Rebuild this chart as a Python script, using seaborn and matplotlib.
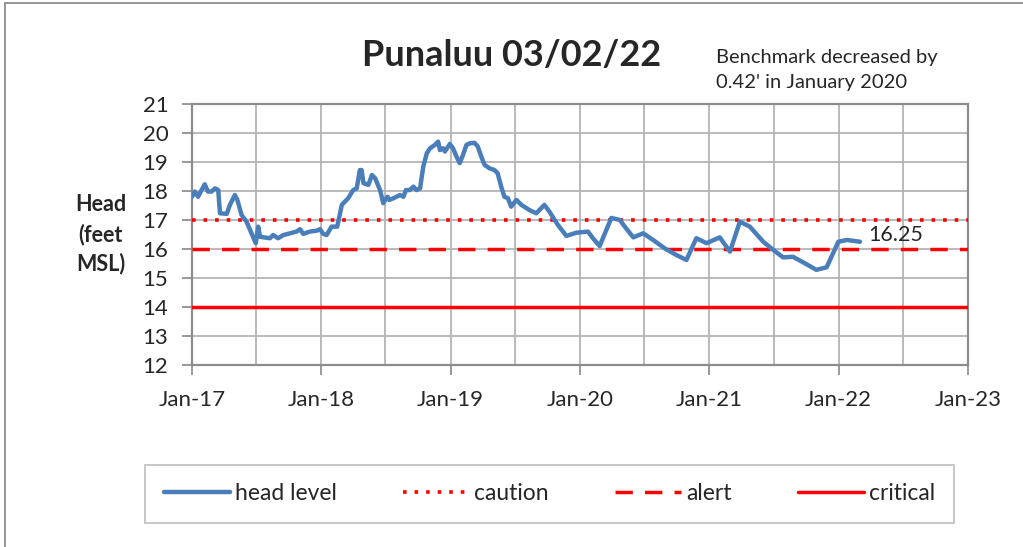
import pandas as pd
import seaborn as sns
import matplotlib.pyplot as plt
import matplotlib.dates as mdates
from matplotlib.patches import Rectangle

# head level readings
dates = [
    "2017-01-01", "2017-01-09", "2017-01-18", "2017-01-28", "2017-02-06", "2017-02-15",
    "2017-02-25", "2017-03-07", "2017-03-16", "2017-03-21", "2017-04-09", "2017-04-18",
    "2017-05-02", "2017-05-09", "2017-05-21", "2017-06-04", "2017-06-18", "2017-06-30",
    "2017-07-07", "2017-07-12", "2017-08-09", "2017-08-18", "2017-09-01", "2017-09-16",
    "2017-10-05", "2017-10-23", "2017-11-02", "2017-11-11", "2017-11-30", "2017-12-19",
    "2017-12-28", "2018-01-07", "2018-01-16", "2018-01-30", "2018-02-15", "2018-02-28",
    "2018-03-18", "2018-04-01", "2018-04-11", "2018-04-20", "2018-04-25", "2018-04-30",
    "2018-05-14", "2018-05-24", "2018-06-02", "2018-06-16", "2018-06-25", "2018-07-07",
    "2018-07-12", "2018-07-24", "2018-08-11", "2018-08-21", "2018-08-28", "2018-09-08",
    "2018-09-18", "2018-09-27", "2018-10-07", "2018-10-16", "2018-10-26", "2018-11-04",
    "2018-11-18", "2018-11-27", "2018-12-02", "2018-12-11", "2018-12-16", "2018-12-30",
    "2019-01-08", "2019-01-18", "2019-01-27", "2019-02-05", "2019-02-15", "2019-02-24",
    "2019-03-10", "2019-03-19", "2019-03-29", "2019-04-07", "2019-04-21", "2019-05-05",
    "2019-05-14", "2019-05-24", "2019-06-02", "2019-06-12", "2019-06-21", "2019-07-06",
    "2019-07-20", "2019-08-12", "2019-08-31", "2019-09-23", "2019-10-07", "2019-10-31",
    "2019-11-24", "2019-12-22", "2020-01-24", "2020-02-07", "2020-02-26", "2020-03-30",
    "2020-04-23", "2020-05-07", "2020-05-31", "2020-06-28", "2020-07-26", "2020-08-28",
    "2020-09-30", "2020-10-28", "2020-11-25", "2020-12-24", "2021-01-30", "2021-02-28",
    "2021-03-28", "2021-04-25", "2021-06-02", "2021-06-30", "2021-07-28", "2021-08-25",
    "2021-09-27", "2021-10-30", "2021-11-28", "2021-12-31", "2022-01-24", "2022-03-02",
]
head = [
    17.80, 17.98, 17.80, 18.03, 18.23, 17.98,
    17.98, 18.09, 18.03, 17.23, 17.21, 17.52,
    17.86, 17.69, 17.17, 16.94, 16.54, 16.20,
    16.77, 16.42, 16.37, 16.48, 16.37, 16.48,
    16.54, 16.60, 16.68, 16.52, 16.60, 16.63,
    16.68, 16.52, 16.48, 16.77, 16.77, 17.52,
    17.75, 18.03, 18.09, 18.72, 18.72, 18.27,
    18.21, 18.55, 18.44, 18.03, 17.58, 17.80,
    17.69, 17.75, 17.86, 17.80, 18.03, 18.03,
    18.15, 18.03, 18.09, 18.84, 19.30, 19.47,
    19.59, 19.70, 19.41, 19.47, 19.36, 19.62,
    19.47, 19.18, 18.96, 19.24, 19.59, 19.64,
    19.66, 19.53, 19.18, 18.90, 18.78, 18.72,
    18.61, 18.15, 17.80, 17.75, 17.46, 17.69,
    17.52, 17.34, 17.23, 17.52, 17.29, 16.83,
    16.45, 16.56, 16.60, 16.37, 16.10, 17.07,
    17.00, 16.77, 16.40, 16.54, 16.31, 16.02,
    15.79, 15.62, 16.37, 16.20, 16.40, 15.91,
    16.94, 16.77, 16.25, 15.97, 15.71, 15.73,
    15.51, 15.28, 15.37, 16.25, 16.31, 16.25,
]

levels = ["caution", "alert", "critical"]
level_values = [17, 16, 14]
level_styles = [":", "--", "-"]

latest_label = "16.25"

df = pd.DataFrame({"date": pd.to_datetime(dates), "head": head})

sns.set_theme(style="white")
plt.rcParams["font.family"] = ["Lato", "DejaVu Sans"]

fig = plt.figure(figsize=(10.23, 5.47), dpi=100)
ax = fig.add_axes([0.1877, 0.3327, 0.7585, 0.4773])

# threshold lines
for name, val, ls in zip(levels, level_values, level_styles):
    ax.axhline(val, color="#ff0000", linestyle=ls, linewidth=2.5 if ls != ":" else 2.6,
               label=name, zorder=3,
               dashes=(1, 2.2) if ls == ":" else ((5, 3.5) if ls == "--" else (None, None)))

sns.lineplot(data=df, x="date", y="head", ax=ax, color="#4a7ebb", linewidth=3.2,
             label="head level", zorder=4)

ax.annotate(latest_label, xy=(df["date"].iloc[-1], df["head"].iloc[-1]),
            xytext=(6, 5), textcoords="offset points", fontsize=15.5, va="center", ha="left")

ax.set_xlim(pd.Timestamp("2017-01-01"), pd.Timestamp("2023-01-01"))
ax.set_ylim(12, 21)
ax.set_yticks(range(12, 22))
ax.xaxis.set_major_locator(mdates.YearLocator())
ax.xaxis.set_minor_locator(mdates.MonthLocator(bymonth=7))
ax.xaxis.set_major_formatter(mdates.DateFormatter("%b-%y"))

ax.grid(True, which="major", axis="both", color="#b4b4b4", linewidth=1.3)
ax.grid(True, which="minor", axis="x", color="#b4b4b4", linewidth=1.3)
for s in ax.spines.values():
    s.set_color("#8c8c8c")
    s.set_linewidth(1.6)

ax.tick_params(axis="both", which="major", labelsize=16, length=7, color="#8c8c8c",
               direction="out", bottom=True, left=True)
ax.tick_params(axis="y", which="major", pad=10)
ax.tick_params(axis="x", which="major", pad=11)
ax.tick_params(axis="x", which="minor", length=0)
ax.set_xlabel("")
ax.set_ylabel("Head\n(feet\nMSL)", fontsize=15.5, fontweight="bold", rotation=0,
              labelpad=30, va="center", ha="center", linespacing=1.45)

fig.text(0.5, 0.898, "Punaluu 03/02/22", fontsize=26, fontweight="bold", ha="center", va="center")
fig.text(0.700, 0.872, "Benchmark decreased by\n0.42' in January 2020", fontsize=14.5,
         ha="left", va="center", linespacing=1.55)

# legend in the order of the original
handles, labels = ax.get_legend_handles_labels()
order = [labels.index(n) for n in ["head level"] + levels]
leg = fig.legend([handles[i] for i in order], [labels[i] for i in order],
                 loc="center", bbox_to_anchor=(0.537, 0.097), ncol=4, fontsize=16.5,
                 frameon=True, fancybox=False, edgecolor="#b4b4b4", handlelength=2.9,
                 handletextpad=0.2, columnspacing=2.9, borderpad=0.8, borderaxespad=0)
leg.get_frame().set_linewidth(1.3)
if ax.get_legend() is not None:
    ax.get_legend().remove()

# outer chart border
fig.patches.append(Rectangle((0.005, -0.01), 1.2, 1.004, transform=fig.transFigure,
                             fill=False, edgecolor="#8c8c8c", linewidth=1.3))

fig.savefig("out.png", dpi=100)
